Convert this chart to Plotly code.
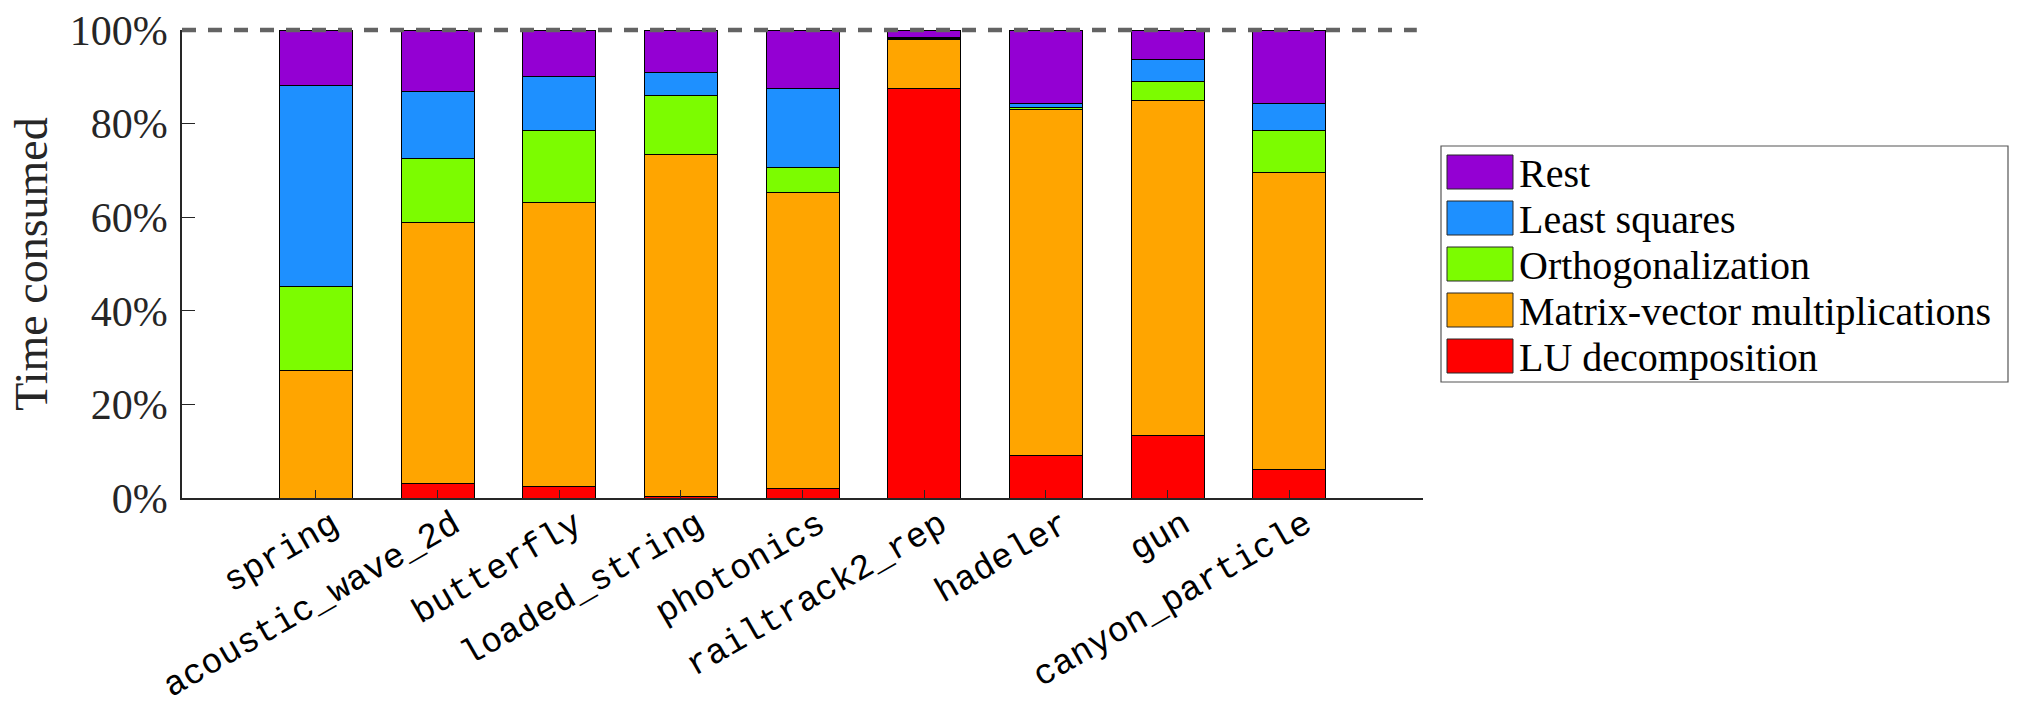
import plotly.graph_objects as go

categories = ["spring", "acoustic_wave_2d", "butterfly", "loaded_string", "photonics",
              "railtrack2_rep", "hadeler", "gun", "canyon_particle"]
lu_decomposition = [0.0, 3.1, 2.4, 0.3, 2.0, 87.5, 9.1, 13.3, 6.0]
matvec = [27.3, 55.8, 60.7, 73.0, 63.3, 10.5, 73.9, 71.6, 63.5]
orthogonalization = [17.8, 13.6, 15.5, 12.8, 5.4, 0.2, 0.5, 4.1, 9.0]
least_squares = [43.0, 14.4, 11.5, 4.9, 16.8, 0.2, 0.7, 4.6, 5.7]
rest = [11.9, 13.1, 9.9, 9.0, 12.5, 1.6, 15.8, 6.4, 15.8]

series_names = ["LU decomposition", "Matrix-vector multiplications", "Orthogonalization",
                "Least squares", "Rest"]
series_values = [lu_decomposition, matvec, orthogonalization, least_squares, rest]
series_colors = ["#FF0000", "#FFA500", "#7CFC00", "#1E90FF", "#9400D3"]
y_ticks = [0, 20, 40, 60, 80, 100]
y_ticktext = [f"{v}%" for v in y_ticks]

W, H = 2023, 710
L, R, T, B = 182, 2023 - 1423, 30, 710 - 498
pw, ph = W - L - R, H - T - B

fig = go.Figure()
for name, vals, col in zip(series_names, series_values, series_colors):
    fig.add_trace(go.Bar(x=categories, y=vals, name=name, marker_color=col,
                         marker_line=dict(color="black", width=1), width=0.6,
                         showlegend=False))

# 100% reference line (paper-referenced so it is not clipped at the plot top)
fig.add_shape(type="line", xref="paper", yref="paper", x0=0, x1=0.995, y0=1, y1=1,
              line=dict(color="#636363", width=4.5, dash="14px,12px"), layer="above")

# custom legend (MATLAB-style large swatches)
def px2x(px):
    return (px - L) / pw

def py2y(py):
    return (T + ph - py) / ph

box_x0, box_x1, box_y0, box_y1 = 1441, 2008, 146, 382
fig.add_shape(type="rect", xref="paper", yref="paper",
              x0=px2x(box_x0), x1=px2x(box_x1), y0=py2y(box_y1), y1=py2y(box_y0),
              line=dict(color="#555555", width=1.2), fillcolor="white")
row0, dy = 172, 46
for i, (name, col) in enumerate(reversed(list(zip(series_names, series_colors)))):
    cy = row0 + i * dy
    fig.add_shape(type="rect", xref="paper", yref="paper",
                  x0=px2x(1447), x1=px2x(1513), y0=py2y(cy + 17), y1=py2y(cy - 17),
                  line=dict(color="#262626", width=1), fillcolor=col)
    fig.add_annotation(xref="paper", yref="paper", x=px2x(1517), y=py2y(cy + 1),
                       text=name, showarrow=False, xanchor="left", yanchor="middle",
                       font=dict(family="Liberation Serif", size=40, color="black"))

fig.update_layout(
    width=W, height=H, autosize=False,
    margin=dict(l=L, r=R, t=T, b=B, pad=0),
    plot_bgcolor="white", paper_bgcolor="white",
    barmode="stack", bargap=0.4,
    showlegend=False,
    font=dict(family="Liberation Serif", color="#262626"),
)
fig.update_xaxes(type="category", range=[-1.1, 8 + 1.1], showline=True, automargin=False,
                 linecolor="#262626", linewidth=1.5, ticks="inside", ticklen=8,
                 tickcolor="#262626", showgrid=False, tickangle=-30,
                 ticklabelstandoff=-10, ticklabelshift=16,
                 tickfont=dict(family="Liberation Mono", size=35, color="black"))
fig.update_yaxes(range=[0, 100], tickvals=y_ticks, ticktext=y_ticktext, showline=True,
                 automargin=False, ticklabelstandoff=4,
                 linecolor="#262626", linewidth=1.5, ticks="inside", ticklen=13,
                 tickcolor="#262626", showgrid=False, zeroline=False,
                 tickfont=dict(family="Liberation Serif", size=42, color="#262626"),
                 title=dict(text="Time consumed", standoff=8,
                            font=dict(family="Liberation Serif", size=46, color="#262626")))

fig.write_html("out.html", config={"displayModeBar": False},
               post_script="document.body.style.margin='0';")
